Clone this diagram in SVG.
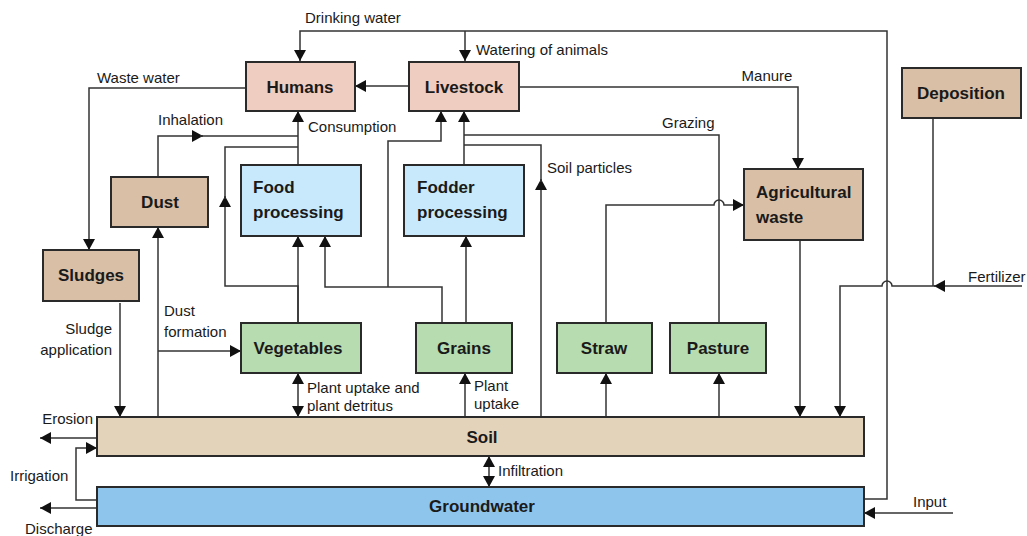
<svg xmlns="http://www.w3.org/2000/svg" width="1027" height="536" viewBox="0 0 1027 536">
<style>
.box{stroke:#2a2a2a;stroke-width:2}
.pink{fill:#efcdc0}.tan{fill:#d8bfa6}.soil{fill:#e4d3bb}.blue{fill:#c8e9fb}.green{fill:#b6dcb0}.gw{fill:#8ec5ec}
.nl{font-family:"Liberation Sans",Arial,sans-serif;font-weight:bold;font-size:17px;fill:#1a1a1a}
.c{text-anchor:middle}
.lb{font-family:"Liberation Sans",Arial,sans-serif;font-size:15px;fill:#1a1a1a}
.ln{fill:none;stroke:#333;stroke-width:1.5}
.a{marker-end:url(#ah)}
.b{marker-start:url(#ah);marker-end:url(#ah)}
</style>
<defs>
<marker id="ah" markerUnits="userSpaceOnUse" markerWidth="12" markerHeight="12" refX="11" refY="6" orient="auto-start-reverse" viewBox="0 0 12 12">
<path d="M0,0 L11,6 L0,12 z" fill="#111"/>
</marker>
</defs>
<rect width="1027" height="536" fill="#fff"/>
<g id="connectors">
<path class="ln a" d="M864,499 H887 V31 H300 V61"/>
<path class="ln a" d="M465,31 V61"/>
<path class="ln a" d="M409,86 H355"/>
<path class="ln a" d="M246,88 H89 V250"/>
<path class="ln a" d="M519,87 H798 V169"/>
<path class="ln a" d="M298,165 V111"/>
<path class="ln a" d="M158,177 V136 H203"/>
<path class="ln" d="M200,136 H298"/>
<path class="ln a" d="M298,323 V286 H225 V196"/>
<path class="ln" d="M225,199 V147 H298"/>
<path class="ln a" d="M298,323 V236"/>
<path class="ln a" d="M442,323 V287 H325 V236"/>
<path class="ln a" d="M388,287 V141 H441 V111"/>
<path class="ln a" d="M466,323 V236"/>
<path class="ln a" d="M464,165 V111"/>
<path class="ln" d="M719,323 V135 H464"/>
<path class="ln a" d="M541,417 V179"/>
<path class="ln" d="M541,182 V145 H464"/>
<path class="ln a" d="M606,323 V205 H714 A5,5 0 0 1 724,205 H744"/>
<path class="ln a" d="M800,240 V417"/>
<path class="ln" d="M933,118 V286"/>
<path class="ln a" d="M1022,286 H934"/>
<path class="ln a" d="M936,286 H892 A5,5 0 0 0 882,286 H840 V417"/>
<path class="ln b" d="M298,373 V417"/>
<path class="ln a" d="M465,417 V373"/>
<path class="ln a" d="M606,417 V373"/>
<path class="ln a" d="M719,417 V373"/>
<path class="ln a" d="M158,417 V227"/>
<path class="ln a" d="M158,351 H241"/>
<path class="ln a" d="M120,303 V417"/>
<path class="ln b" d="M489,456 V487"/>
<path class="ln a" d="M97,438 H40"/>
<path class="ln a" d="M97,508 H40"/>
<path class="ln a" d="M97,500 H76 V448 H97"/>
<path class="ln a" d="M953,513 H864"/>
</g>
<g id="labels">
<text class="lb" x="305" y="23">Drinking water</text>
<text class="lb" x="476" y="55">Watering of animals</text>
<text class="lb" x="97" y="83">Waste water</text>
<text class="lb c" x="767" y="81">Manure</text>
<text class="lb" x="158" y="125">Inhalation</text>
<text class="lb" x="308" y="132">Consumption</text>
<text class="lb" x="662" y="128">Grazing</text>
<text class="lb" x="547" y="173">Soil particles</text>
<text class="lb" x="164" y="316">Dust</text>
<text class="lb" x="164" y="337">formation</text>
<text class="lb" x="112" y="334" text-anchor="end">Sludge</text>
<text class="lb" x="112" y="355" text-anchor="end">application</text>
<text class="lb" x="307" y="393">Plant uptake and</text>
<text class="lb" x="307" y="411">plant detritus</text>
<text class="lb" x="474" y="391">Plant</text>
<text class="lb" x="474" y="409">uptake</text>
<text class="lb" x="93" y="424" text-anchor="end">Erosion</text>
<text class="lb" x="10" y="481">Irrigation</text>
<text class="lb" x="25" y="534">Discharge</text>
<text class="lb" x="498" y="476">Infiltration</text>
<text class="lb" x="913" y="507">Input</text>
<text class="lb" x="968" y="282">Fertilizer</text>
</g>
<g id="humans"><rect class="box pink" x="246" y="62" width="109" height="49"/><text class="nl c" x="300" y="93">Humans</text></g>
<g id="livestock"><rect class="box pink" x="409" y="62" width="110" height="49"/><text class="nl c" x="464" y="93">Livestock</text></g>
<g id="deposition"><rect class="box tan" x="902" y="68" width="119" height="50"/><text class="nl c" x="961" y="99">Deposition</text></g>
<g id="dust"><rect class="box tan" x="111" y="177" width="97" height="50"/><text class="nl c" x="160" y="208">Dust</text></g>
<g id="sludges"><rect class="box tan" x="43" y="250" width="96" height="51"/><text class="nl c" x="91" y="281">Sludges</text></g>
<g id="food-processing"><rect class="box blue" x="241" y="165" width="120" height="71"/><text class="nl" x="253" y="193">Food</text><text class="nl" x="253" y="218">processing</text></g>
<g id="fodder-processing"><rect class="box blue" x="404" y="165" width="120" height="71"/><text class="nl" x="417" y="193">Fodder</text><text class="nl" x="417" y="218">processing</text></g>
<g id="agricultural-waste"><rect class="box tan" x="744" y="169" width="119" height="71"/><text class="nl" x="756" y="198">Agricultural</text><text class="nl" x="756" y="223">waste</text></g>
<g id="vegetables"><rect class="box green" x="241" y="323" width="120" height="50"/><text class="nl c" x="298" y="354">Vegetables</text></g>
<g id="grains"><rect class="box green" x="416" y="323" width="96" height="50"/><text class="nl c" x="464" y="354">Grains</text></g>
<g id="straw"><rect class="box green" x="557" y="323" width="95" height="50"/><text class="nl c" x="604" y="354">Straw</text></g>
<g id="pasture"><rect class="box green" x="670" y="323" width="96" height="50"/><text class="nl c" x="718" y="354">Pasture</text></g>
<g id="soil"><rect class="box soil" x="97" y="417" width="767" height="39"/><text class="nl c" x="482" y="443">Soil</text></g>
<g id="groundwater"><rect class="box gw" x="97" y="487" width="767" height="39"/><text class="nl c" x="482" y="512">Groundwater</text></g>
</svg>
